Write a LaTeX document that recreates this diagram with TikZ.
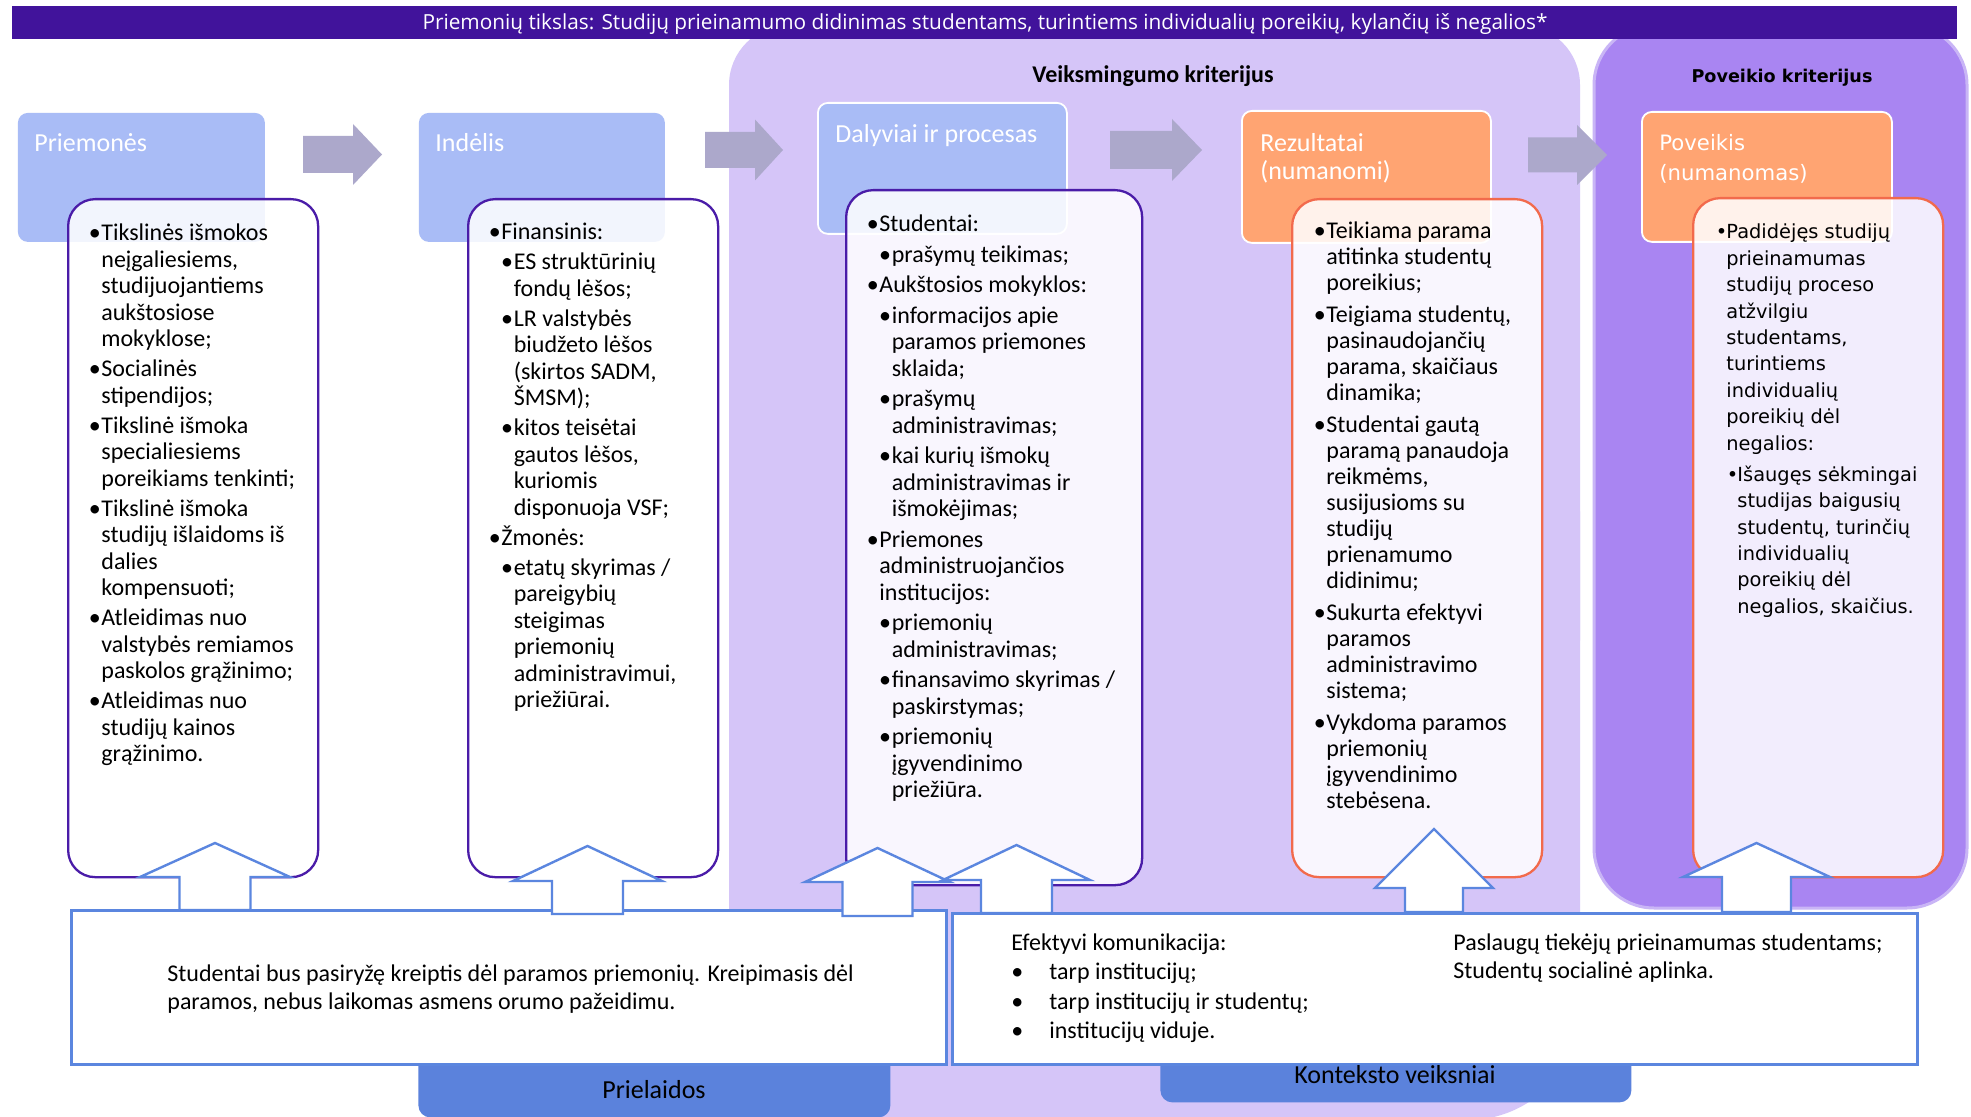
\documentclass[tikz,border=0pt]{standalone}
\usepackage{fontspec}
\setmainfont{Carlito}
\newfontfamily\dvs{DejaVu Sans}
\newfontfamily\osans{Open Sans}
\definecolor{banner}{HTML}{41139B}
\definecolor{lav}{HTML}{D5C5F8}
\definecolor{pur}{HTML}{A985F2}
\definecolor{purb}{HTML}{C9B5F6}
\definecolor{hblue}{HTML}{A9BCF6}
\definecolor{horange}{HTML}{FFA472}
\definecolor{cpurple}{HTML}{4A1CA8}
\definecolor{corange}{HTML}{F26A4C}
\definecolor{garrow}{HTML}{ACA8CB}
\definecolor{barrow}{HTML}{5B86DF}
\definecolor{lblue}{HTML}{5B82DC}
\newlength\bw \setlength\bw{5.5pt}
\newlength\ind \setlength\ind{6.2pt}
\newlength\igap \setlength\igap{1.75pt}
\newcommand\Ia[1]{\hbox{\makebox[\bw][l]{\hspace{-0.8pt}•}#1}}
\newcommand\Ib[1]{\hbox{\hspace*{\bw}#1}}
\newcommand\IIa[1]{\hbox{\hspace*{\ind}\makebox[\bw][l]{\hspace{-0.8pt}•}#1}}
\newcommand\IIb[1]{\hbox{\hspace*{\ind}\hspace*{\bw}#1}}
\newcommand\G{\vskip\igap}
\newcommand\UpArr[6]{\filldraw[uarr] (#1,#2) -- ({#1+#4},#3) -- ({#1+#5},#3) -- ({#1+#5},#6) -- ({#1-#5},#6) -- ({#1-#5},#3) -- ({#1-#4},#3) -- cycle;}
\newcommand\RArr[6]{\fill[garrow] (#1,{#4-#5}) -- (#2,{#4-#5}) -- (#2,{#4-#6}) -- (#3,#4) -- (#2,{#4+#6}) -- (#2,{#4+#5}) -- (#1,{#4+#5}) -- cycle;}
\begin{document}
\begin{tikzpicture}[x=0.5pt,y=-0.5pt,
  hdr/.style={draw=white, line width=0.9pt, rounded corners=5pt, inner sep=0pt, anchor=north west},
  cbox/.style={fill=white, fill opacity=0.86, line width=1.15pt, rounded corners=13.5pt, inner sep=0pt, anchor=north west},
  tbox/.style={fill=white, draw=barrow, line width=1.25pt, inner sep=0pt, anchor=north west},
  lbox/.style={fill=lblue, rounded corners=6pt, inner sep=0pt, anchor=north west},
  uarr/.style={fill=white, draw=barrow, line width=1.2pt, line join=miter},
  body/.style={anchor=base west, inner sep=0pt, font=\fontsize{12}{13.25}\selectfont},
  htxt/.style={anchor=base west, inner sep=0pt, text=white, font=\fontsize{13}{14}\selectfont}]
\useasboundingbox (0,0) rectangle (1971,1117);
\fill[white] (0,0) rectangle (1971,1117);
% panels
\fill[lav, rounded corners=30pt] (729,25) rectangle (1580,700);
\fill[lav, rounded corners=56pt] (729,400) rectangle (1580,1120);
\filldraw[fill=pur, draw=purb, line width=1.5pt, rounded corners=30pt] (1594,25) rectangle (1967,908);
% banner
\node[fill=banner, inner sep=0pt, minimum width=972.5pt, minimum height=16.5pt, anchor=north west] (banner) at (12,6) {};
\node[anchor=base, inner sep=0pt, text=white, font=\osans\fontsize{10.4}{12}\selectfont] (bannertxt) at (985,30) {Priemonių tikslas: Studijų prieinamumo didinimas studentams, turintiems individualių poreikių, kylančių iš negalios*};
% titles
\node[anchor=base, inner sep=0pt, font=\bfseries\fontsize{12}{14}\selectfont] (vk) at (1153,83) {Veiksmingumo kriterijus};
\node[anchor=base, inner sep=0pt, font=\dvs\bfseries\fontsize{8.8}{10}\selectfont] (pk) at (1782,83) {Poveikio kriterijus};
% headers
\node[hdr, fill=hblue, draw=none, minimum width=123.5pt, minimum height=64.5pt] (h1) at (17,112) {};
\node[hdr, fill=hblue, draw=none, minimum width=123pt, minimum height=64.5pt] (h2) at (418,112) {};
\node[hdr, fill=hblue, minimum width=124.5pt, minimum height=65.5pt] (h3) at (817,102) {};
\node[hdr, fill=horange, minimum width=124.5pt, minimum height=66pt] (h4) at (1241,110) {};
\node[hdr, fill=horange, minimum width=125pt, minimum height=65pt] (h5) at (1641,111) {};
\node[htxt] (h1t) at (34,152) {Priemonės};
\node[htxt] (h2t) at (435,152) {Indėlis};
\node[htxt] (h3t) at (835,143) {Dalyviai ir procesas};
\node[htxt] (h4t) at (1260,152) {\vtop{\hbox{Rezultatai}\hbox{(numanomi)}}};
\node[htxt, font=\dvs\fontsize{10.6}{15}\selectfont] (h5t) at (1659,151) {\vtop{\hbox{Poveikis}\hbox{(numanomas)}}};
% gray arrows
\RArr{303}{353}{382}{154.5}{18.5}{30.5}
\RArr{705}{755}{783}{150}{18}{30.5}
\RArr{1110}{1172}{1202}{150}{19}{31}
\RArr{1528}{1577}{1607}{155}{17.5}{30}
% content boxes
\node[cbox, draw=cpurple, minimum width=125pt, minimum height=339pt] (c1) at (67,198) {};
\node[cbox, draw=cpurple, minimum width=125pt, minimum height=339pt] (c2) at (467,198) {};
\node[cbox, draw=cpurple, minimum width=148pt, minimum height=347.5pt] (c3) at (845,189) {};
\node[cbox, draw=corange, minimum width=125pt, minimum height=339pt] (c4) at (1291,198) {};
\node[cbox, draw=corange, minimum width=125pt, minimum height=339.5pt] (c5) at (1692,197) {};
% content texts
\node[body] (c1t) at (90,241) {\vtop{%
\Ia{Tikslinės išmokos}
\Ib{neįgaliesiems,}
\Ib{studijuojantiems}
\Ib{aukštosiose}
\Ib{mokyklose;}\G
\Ia{Socialinės}
\Ib{stipendijos;}\G
\Ia{Tikslinė išmoka}
\Ib{specialiesiems}
\Ib{poreikiams tenkinti;}\G
\Ia{Tikslinė išmoka}
\Ib{studijų išlaidoms iš}
\Ib{dalies}
\Ib{kompensuoti;}\G
\Ia{Atleidimas nuo}
\Ib{valstybės remiamos}
\Ib{paskolos grąžinimo;}\G
\Ia{Atleidimas nuo}
\Ib{studijų kainos}
\Ib{grąžinimo.}}};
\node[body] (c2t) at (490,240) {\vtop{%
\Ia{Finansinis:}\G
\IIa{ES struktūrinių}
\IIb{fondų lėšos;}\G
\IIa{LR valstybės}
\IIb{biudžeto lėšos}
\IIb{(skirtos SADM,}
\IIb{ŠMSM);}\G
\IIa{kitos teisėtai}
\IIb{gautos lėšos,}
\IIb{kuriomis}
\IIb{disponuoja VSF;}\G
\Ia{Žmonės:}\G
\IIa{etatų skyrimas /}
\IIb{pareigybių}
\IIb{steigimas}
\IIb{priemonių}
\IIb{administravimui,}
\IIb{priežiūrai.}}};
\node[body] (c3t) at (868,232) {\setlength\igap{2pt}\vtop{%
\Ia{Studentai:}\G
\IIa{prašymų teikimas;}\G
\Ia{Aukštosios mokyklos:}\G
\IIa{informacijos apie}
\IIb{paramos priemones}
\IIb{sklaida;}\G
\IIa{prašymų}
\IIb{administravimas;}\G
\IIa{kai kurių išmokų}
\IIb{administravimas ir}
\IIb{išmokėjimas;}\G
\Ia{Priemones}
\Ib{administruojančios}
\Ib{institucijos:}\G
\IIa{priemonių}
\IIb{administravimas;}\G
\IIa{finansavimo skyrimas /}
\IIb{paskirstymas;}\G
\IIa{priemonių}
\IIb{įgyvendinimo}
\IIb{priežiūra.}}};
\node[body, font=\fontsize{12}{13}\selectfont] (c4t) at (1315,239) {\setlength\igap{3pt}\vtop{%
\Ia{Teikiama parama}
\Ib{atitinka studentų}
\Ib{poreikius;}\G
\Ia{Teigiama studentų,}
\Ib{pasinaudojančių}
\Ib{parama, skaičiaus}
\Ib{dinamika;}\G
\Ia{Studentai gautą}
\Ib{paramą panaudoja}
\Ib{reikmėms,}
\Ib{susijusioms su}
\Ib{studijų}
\Ib{prienamumo}
\Ib{didinimu;}\G
\Ia{Sukurta efektyvi}
\Ib{paramos}
\Ib{administravimo}
\Ib{sistema;}\G
\Ia{Vykdoma paramos}
\Ib{priemonių}
\Ib{įgyvendinimo}
\Ib{stebėsena.}}};
\node[body, font=\dvs\fontsize{9.7}{13.2}\selectfont] (c5t) at (1717,239) {\setlength\bw{4.5pt}\setlength\ind{5.5pt}\setlength\igap{2.4pt}\vtop{%
\Ia{Padidėjęs studijų}
\Ib{prieinamumas}
\Ib{studijų proceso}
\Ib{atžvilgiu}
\Ib{studentams,}
\Ib{turintiems}
\Ib{individualių}
\Ib{poreikių dėl}
\Ib{negalios:}\G
\IIa{Išaugęs sėkmingai}
\IIb{studijas baigusių}
\IIb{studentų, turinčių}
\IIb{individualių}
\IIb{poreikių dėl}
\IIb{negalios, skaičius.}}};
% bottom label boxes
\node[lbox, minimum width=236pt, minimum height=43.5pt] (l1) at (418,1030) {};
\node[lbox, minimum width=235.5pt, minimum height=36pt] (l2) at (1160,1030) {};
% bottom text boxes
\node[tbox, minimum width=437.5pt, minimum height=77pt] (t1) at (70,909) {};
\node[tbox, minimum width=482.5pt, minimum height=75.5pt] (t2) at (951,912) {};
\node[anchor=base, inner sep=0pt, font=\fontsize{13}{15}\selectfont] (l1t) at (654,1098) {Prielaidos};
\node[anchor=base, inner sep=0pt, font=\fontsize{13}{15}\selectfont] (l2t) at (1395,1083) {Konteksto veiksniai};
\node[body, font=\fontsize{12}{14}\selectfont] (t1t) at (167,981) {\vtop{\hbox{Studentai bus pasiryžę kreiptis dėl paramos priemonių. Kreipimasis dėl}\hbox{paramos, nebus laikomas asmens orumo pažeidimu.}}};
\node[body, font=\fontsize{12}{14.8}\selectfont] (t2t) at (1011,950) {\vtop{\hbox{Efektyvi komunikacija:}\hbox{\makebox[19pt][l]{•}tarp institucijų;}\hbox{\makebox[19pt][l]{•}tarp institucijų ir studentų;}\hbox{\makebox[19pt][l]{•}institucijų viduje.}}};
\node[body, font=\fontsize{12}{14.3}\selectfont] (t2r) at (1453,950) {\vtop{\hbox{Paslaugų tiekėjų prieinamumas studentams;}\hbox{Studentų socialinė aplinka.}}};
% up arrows
\UpArr{215}{843}{877}{75}{35.5}{910}
\UpArr{587.5}{846}{881}{74.5}{35.5}{914}
\UpArr{877.5}{848}{882}{72.5}{35}{916}
\UpArr{1016.5}{845}{880}{73.5}{35.5}{913}
\UpArr{1434}{829}{888}{59}{29}{912}
\UpArr{1756.5}{843}{877}{73.5}{34.5}{912}
\end{tikzpicture}
\end{document}
